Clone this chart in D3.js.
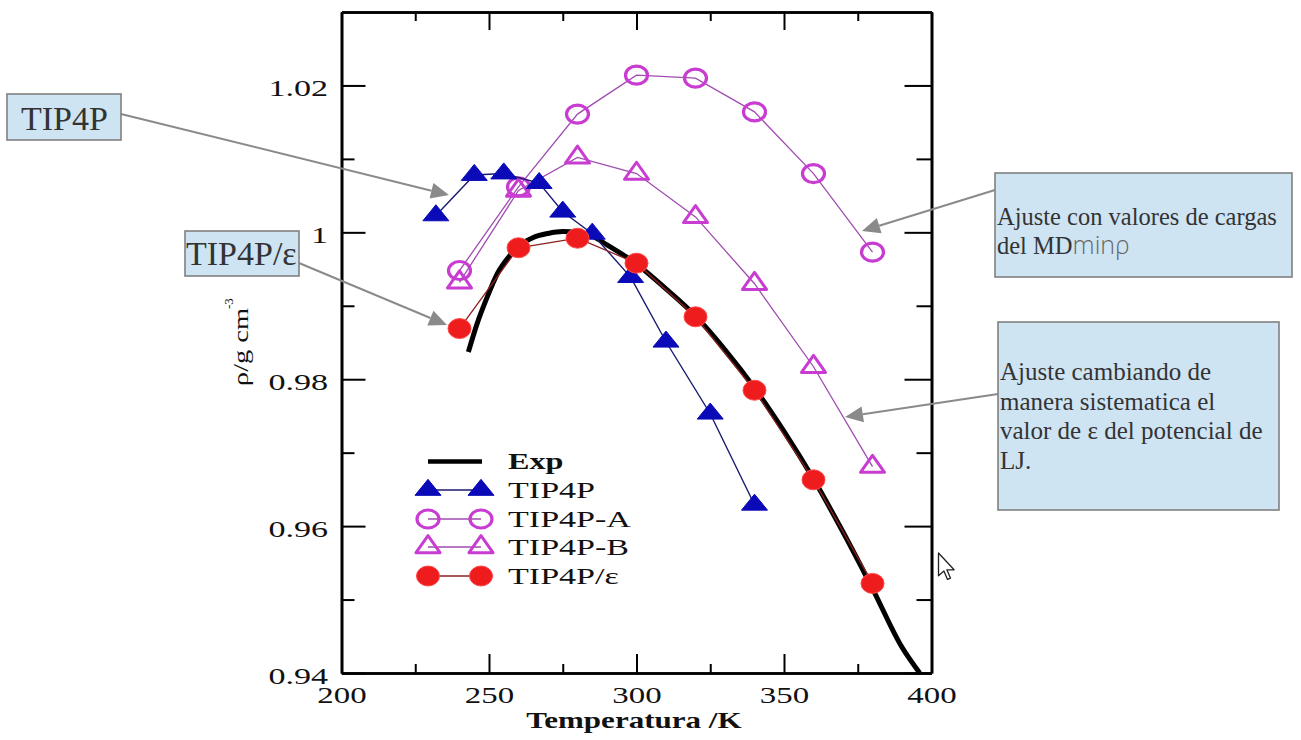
<!DOCTYPE html>
<html>
<head>
<meta charset="utf-8">
<script src="https://cdn.jsdelivr.net/npm/d3@7"></script>
<style>
  html, body { margin: 0; padding: 0; background: #fff; }
  svg { display: block; }
</style>
</head>
<body>
<svg id="chart" width="1301" height="740"></svg>
<script>
// ---------------- DATA ----------------
const xMajorTicks = [200, 250, 300, 350, 400];
const xTickLabels = ["200", "250", "300", "350", "400"];
const xMinorTicks = [225, 275, 325, 375];
const yMajorTicks = [0.94, 0.96, 0.98, 1.00, 1.02];
const yTickLabels = ["0.94", "0.96", "0.98", "1", "1.02"];
const yMinorTicks = [0.95, 0.97, 0.99, 1.01];

const expT   = [243, 246, 249, 253, 257, 261, 265, 270, 275, 280, 285, 290, 300, 310, 320, 330, 340, 350, 360, 370, 380, 390, 396];
const expRho = [0.9837, 0.9876, 0.9908, 0.9945, 0.9968, 0.9984, 0.9993, 0.99985, 1.0001, 1.0000, 0.9995, 0.9983, 0.9957, 0.9923, 0.9886, 0.9840, 0.9788, 0.9729, 0.9664, 0.9592, 0.9515, 0.9435, 0.9400];

const tip4pT   = [232, 245, 255, 267, 275, 285, 298, 310, 325, 340];
const tip4pRho = [1.0023, 1.0078, 1.0080, 1.0067, 1.0028, 0.9998, 0.9939, 0.9851, 0.9753, 0.9629];

const fitT        = [240, 260, 280, 300, 320, 340, 360, 380];
const tip4pARho   = [0.9948, 1.0062, 1.0161, 1.0214, 1.0210, 1.0164, 1.0080, 0.9973];
const tip4pBRho   = [0.9932, 1.0057, 1.0102, 1.0080, 1.0021, 0.9930, 0.9817, 0.9681];
const tip4pEpsRho = [0.9869, 0.9979, 0.9992, 0.9958, 0.9885, 0.9785, 0.9663, 0.9522];

const legendLabels = ["Exp", "TIP4P", "TIP4P-A", "TIP4P-B", "TIP4P/\u03b5"];

// ---------------- SETUP ----------------
const svg = d3.select("#chart");
svg.append("rect").attr("width", 1301).attr("height", 740).attr("fill", "#fff");

const X0 = 341.5, X1 = 931.5, Y0 = 673, Y1 = 12;
const x = d3.scaleLinear().domain([200, 400]).range([X0, X1]);
const y = d3.scaleLinear().domain([0.94, 1.03]).range([Y0, Y1]);

const SERIF = "'Liberation Serif', 'Times New Roman', serif";

const C = {
  blue: "#0a0ab8", blueLine: "#1a1a70",
  mag: "#c83cd2", magLine: "#a04cb0",
  red: "#ee1c1c", redLine: "#8b2020"
};

// stretch text horizontally (the reference image is horizontally stretched)
function stretchText(node, f, anchor, ax) {
  const L = node.getComputedTextLength();
  const s = d3.select(node);
  s.attr("textLength", L * f).attr("lengthAdjust", "spacingAndGlyphs").attr("text-anchor", "start");
  if (anchor === "middle") s.attr("x", ax - L * f / 2);
  else if (anchor === "end") s.attr("x", ax - L * f);
  else s.attr("x", ax);
}

// ---------------- AXES ----------------
function styleAxis(g) {
  g.select(".domain").attr("stroke", "#000").attr("stroke-width", 2.6);
  g.selectAll(".tick line").attr("stroke", "#000").attr("stroke-width", 2);
}

// bottom major
const gB = svg.append("g").attr("transform", `translate(0,${Y0})`)
  .call(d3.axisBottom(x).tickValues(xMajorTicks).tickFormat((d, i) => xTickLabels[i])
    .tickSizeInner(-19).tickSizeOuter(0).tickPadding(13));
styleAxis(gB);
gB.selectAll(".tick text").attr("font-family", SERIF).attr("font-size", 24).attr("fill", "#111")
  .each(function () { stretchText(this, 1.37, "middle", 0); });
// bottom minor
styleAxis(svg.append("g").attr("transform", `translate(0,${Y0})`)
  .call(d3.axisBottom(x).tickValues(xMinorTicks).tickFormat("").tickSizeInner(-9).tickSizeOuter(0)));
// top
styleAxis(svg.append("g").attr("transform", `translate(0,${Y1})`)
  .call(d3.axisTop(x).tickValues(xMajorTicks).tickFormat("").tickSizeInner(-18).tickSizeOuter(0)));
styleAxis(svg.append("g").attr("transform", `translate(0,${Y1})`)
  .call(d3.axisTop(x).tickValues(xMinorTicks).tickFormat("").tickSizeInner(-9).tickSizeOuter(0)));
// left
const gL = svg.append("g").attr("transform", `translate(${X0},0)`)
  .call(d3.axisLeft(y).tickValues(yMajorTicks).tickFormat((d, i) => yTickLabels[i])
    .tickSizeInner(-24).tickSizeOuter(0).tickPadding(13.5));
styleAxis(gL);
gL.selectAll(".tick text").attr("font-family", SERIF).attr("font-size", 24).attr("fill", "#111")
  .attr("dy", "0.42em")
  .each(function () { stretchText(this, 1.42, "end", -13.5); });
styleAxis(svg.append("g").attr("transform", `translate(${X0},0)`)
  .call(d3.axisLeft(y).tickValues(yMinorTicks).tickFormat("").tickSizeInner(-13).tickSizeOuter(0)));
// right
styleAxis(svg.append("g").attr("transform", `translate(${X1},0)`)
  .call(d3.axisRight(y).tickValues(yMajorTicks).tickFormat("").tickSizeInner(-27).tickSizeOuter(0)));
styleAxis(svg.append("g").attr("transform", `translate(${X1},0)`)
  .call(d3.axisRight(y).tickValues(yMinorTicks).tickFormat("").tickSizeInner(-15).tickSizeOuter(0)));

// axis titles
svg.append("text").attr("y", 728).attr("font-family", SERIF).attr("font-weight", "bold")
  .attr("font-size", 23).attr("fill", "#111").text("Temperatura /K")
  .each(function () { stretchText(this, 1.35, "middle", 634); });

svg.append("text").attr("transform", "translate(248,386) rotate(-90)")
  .attr("font-family", SERIF).attr("font-size", 21).attr("fill", "#111")
  .attr("textLength", 78).attr("lengthAdjust", "spacingAndGlyphs").text("\u03c1/g cm");
svg.append("text").attr("transform", "translate(233,309) rotate(-90)")
  .attr("font-family", SERIF).attr("font-size", 13).attr("fill", "#111").text("-3");

// ---------------- SYMBOLS ----------------
function triPath(w, h) {
  // centroid-centred isoceles triangle
  return `M0,${-2 * h / 3}L${w / 2},${h / 3}L${-w / 2},${h / 3}Z`;
}
function drawMarker(g, type, cx, cy) {
  if (type === "tipf") {
    g.append("path").attr("d", triPath(26, 16)).attr("transform", `translate(${cx},${cy})`)
      .attr("fill", C.blue).attr("stroke", C.blue).attr("stroke-width", 1);
  } else if (type === "circ") {
    g.append("ellipse").attr("cx", cx).attr("cy", cy).attr("rx", 11).attr("ry", 9)
      .attr("fill", "none").attr("stroke", C.mag).attr("stroke-width", 3.2);
  } else if (type === "tri") {
    g.append("path").attr("d", triPath(24, 17)).attr("transform", `translate(${cx},${cy})`)
      .attr("fill", "none").attr("stroke", C.mag).attr("stroke-width", 3).attr("stroke-linejoin", "round");
  } else if (type === "dot") {
    g.append("ellipse").attr("cx", cx).attr("cy", cy).attr("rx", 11.5).attr("ry", 10)
      .attr("fill", C.red).attr("stroke", "#ff4a4a").attr("stroke-width", 1);
  }
}

const lineGen = d3.line().x(d => x(d[0])).y(d => y(d[1]));

// Exp curve
const expData = expT.map((t, i) => [t, expRho[i]]);
svg.append("path").datum(expData)
  .attr("d", d3.line().x(d => x(d[0])).y(d => y(d[1])).curve(d3.curveMonotoneX))
  .attr("fill", "none").attr("stroke", "#000").attr("stroke-width", 5);

const series = [
  { t: fitT, v: tip4pARho, type: "circ", line: C.magLine, lw: 1.3 },
  { t: fitT, v: tip4pBRho, type: "tri", line: C.magLine, lw: 1.3 },
  { t: tip4pT, v: tip4pRho, type: "tipf", line: C.blueLine, lw: 1.4 },
  { t: fitT, v: tip4pEpsRho, type: "dot", line: C.redLine, lw: 1.3 }
];
series.forEach(s => {
  const data = s.t.map((t, i) => [t, s.v[i]]);
  const g = svg.append("g");
  g.append("path").datum(data).attr("d", lineGen).attr("fill", "none")
    .attr("stroke", s.line).attr("stroke-width", s.lw);
  data.forEach(d => drawMarker(g, s.type, x(d[0]), y(d[1])));
});

// ---------------- LEGEND ----------------
const legTypes = ["exp", "tipf", "circ", "tri", "dot"];
const legLine = ["#000", C.blueLine, C.magLine, C.magLine, C.redLine];
const legRowY = [461.5, 490, 519, 547, 576];
const leg = svg.append("g");
legTypes.forEach((tp, i) => {
  const ly = legRowY[i];
  if (tp === "exp") {
    leg.append("line").attr("x1", 428).attr("x2", 482).attr("y1", ly).attr("y2", ly)
      .attr("stroke", "#000").attr("stroke-width", 4.5);
  } else {
    leg.append("line").attr("x1", 428).attr("x2", 481).attr("y1", ly).attr("y2", ly)
      .attr("stroke", legLine[i]).attr("stroke-width", 1.5);
    drawMarker(leg, tp, 428, ly);
    drawMarker(leg, tp, 481, ly);
  }
  leg.append("text").attr("y", ly + 7.5).attr("font-family", SERIF).attr("font-size", 23)
    .attr("font-weight", i === 0 ? "bold" : "normal").attr("fill", "#111")
    .text(legendLabels[i])
    .each(function () { stretchText(this, i === 0 ? 1.4 : 1.48, "start", 508); });
});

// ---------------- ANNOTATIONS ----------------
const BOX_FILL = "#cfe4f3", BOX_STROKE = "#808080", ARROW = "#8a8a8a";
function arrow(x1, y1, x2, y2) {
  const a = Math.atan2(y2 - y1, x2 - x1), hl = 18, hw = 8;
  const bx = x2 - hl * Math.cos(a), by = y2 - hl * Math.sin(a);
  svg.append("line").attr("x1", x1).attr("y1", y1).attr("x2", bx).attr("y2", by)
    .attr("stroke", ARROW).attr("stroke-width", 2);
  const px = -Math.sin(a) * hw, py = Math.cos(a) * hw;
  svg.append("path").attr("d", `M${x2},${y2}L${bx + px},${by + py}L${bx - px},${by - py}Z`)
    .attr("fill", ARROW);
}
function box(x0, y0, w, h) {
  svg.append("rect").attr("x", x0).attr("y", y0).attr("width", w).attr("height", h)
    .attr("fill", BOX_FILL).attr("stroke", BOX_STROKE).attr("stroke-width", 1.6);
}

arrow(121, 114, 449, 195);
arrow(299, 263, 447, 325);
arrow(995, 190, 862, 231);
arrow(998, 394, 845, 417);

box(7, 94, 114, 46);
svg.append("text").attr("x", 21).attr("y", 130).attr("font-family", SERIF).attr("font-size", 34)
  .attr("fill", "#333").text("TIP4P");
box(185, 231, 114, 45);
svg.append("text").attr("x", 186).attr("y", 265).attr("font-family", SERIF).attr("font-size", 34)
  .attr("fill", "#333").text("TIP4P/\u03b5");

box(995, 173, 297, 104);
svg.append("text").attr("x", 997).attr("y", 225).attr("font-family", SERIF).attr("font-size", 24.5)
  .attr("fill", "#333").text("Ajuste con valores de cargas");
const t2 = svg.append("text").attr("x", 997).attr("y", 254).attr("font-family", SERIF)
  .attr("font-size", 24.5).attr("fill", "#333");
t2.append("tspan").text("del MD");
t2.append("tspan").attr("font-family", "'Open Sans', 'DejaVu Sans', sans-serif").attr("font-weight", 300)
  .attr("font-size", 25).attr("fill", "#666").text("min\u03c1");

box(998, 322, 281, 188);
["Ajuste cambiando de", "manera sistematica el", "valor de \u03b5 del potencial de", "LJ."].forEach((s, i) => {
  svg.append("text").attr("x", 1000).attr("y", 380 + i * 29.5).attr("font-family", SERIF)
    .attr("font-size", 25).attr("fill", "#333").text(s);
});

// mouse cursor seen in the screenshot
svg.append("path")
  .attr("d", "M0,0L0,19L4.5,15L7.5,22L10,21L7,14L13,14Z")
  .attr("transform", "translate(938.5,553) scale(1.2)")
  .attr("fill", "#fff").attr("stroke", "#222").attr("stroke-width", 1.1).attr("stroke-linejoin", "round");
</script>
</body>
</html>
